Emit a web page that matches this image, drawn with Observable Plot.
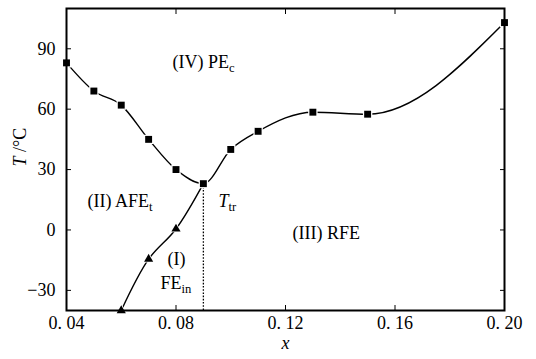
<!DOCTYPE html>
<html><head><meta charset="utf-8">
<script src="https://cdn.jsdelivr.net/npm/d3@7"></script>
<script src="https://cdn.jsdelivr.net/npm/@observablehq/plot@0.6"></script>
<style>body{margin:0;background:#fff} svg text{font-family:'Liberation Serif','Times New Roman',serif}</style>
</head><body><div id="chart"></div>
<script>
// Upper phase boundary (squares)
const upperX = [0.04, 0.05, 0.06, 0.07, 0.08, 0.09, 0.10, 0.11, 0.13, 0.15, 0.20];
const upperT = [83, 69, 62, 45, 30, 23, 40, 49, 58.5, 57.5, 103];
// Lower boundary (triangles)
const lowerX = [0.06, 0.07, 0.08];
const lowerT = [-40, -14.5, 0.5];
// Triple point
const trX = [0.09];
const trT = [23];
// Axes
const xDomain = [0.04, 0.20];
const yDomain = [-40, 110];
const xTicks = [0.04, 0.08, 0.12, 0.16, 0.20];
const xTickLabels = ["0. 04", "0. 08", "0. 12", "0. 16", "0. 20"];
const yTicks = [-30, 0, 30, 60, 90];
const yTickLabels = ["\u221230", "0", "30", "60", "90"];
// Region labels
const regionLabels = ["(IV) PE_{c}", "(II) AFE_{t}", "*T*_{tr}", "(I)", "FE_{in}", "(III) RFE"];
const labelX = [0.0787, 0.0477, 0.0955, 0.0769, 0.0743, 0.1226];
const labelT = [83.4, 14.4, 14.4, -14.6, -26.6, -1.6];

const upper = upperX.map((x, i) => ({x, T: upperT[i]}));
const lowerLine = lowerX.map((x, i) => ({x, T: lowerT[i]})).concat(trX.map((x, i) => ({x, T: trT[i]})));
const lower = lowerX.map((x, i) => ({x, T: lowerT[i]}));
const tr = trX.map((x, i) => ({x, T: trT[i]}));
const labels = regionLabels.map((s, i) => ({s, x: labelX[i], T: labelT[i]}));

const plot = Plot.plot({
  width: 536, height: 359,
  marginLeft: 66, marginRight: 32, marginTop: 8, marginBottom: 49,
  style: {fontFamily: "'Liberation Serif', 'Times New Roman', serif", fontSize: "18px", background: "white", color: "black"},
  x: {domain: xDomain},
  y: {domain: yDomain},
  marks: [
    Plot.ruleX(tr, {x: "x", y1: yDomain[0], y2: "T", strokeDasharray: "1.6,1.6", strokeWidth: 1.3}),
    Plot.line(upper, {x: "x", y: "T", curve: "monotone-x", strokeWidth: 1.4}),
    Plot.line(lowerLine, {x: "x", y: "T", curve: "catmull-rom", strokeWidth: 1.4}),
    Plot.dot(upper, {x: "x", y: "T", symbol: "square", r: 3.9, fill: "black", stroke: "white", strokeWidth: 2.5, paintOrder: "stroke"}),
    Plot.dot(lower, {x: "x", y: "T", symbol: "triangle", r: 3.4, fill: "black", stroke: "white", strokeWidth: 1.5, paintOrder: "stroke"}),
    Plot.text(labels, {x: "x", y: "T", text: "s", textAnchor: "start", lineAnchor: "middle", fontSize: 18, className: "rich"}),
    Plot.axisX(xTicks, {anchor: "bottom", tickSize: -5, tickPadding: 11, tickFormat: (d, i) => xTickLabels[i], label: null, fontSize: 18}),
    Plot.axisX(xTicks, {anchor: "top", tickSize: -5, tickFormat: () => "", label: null}),
    Plot.axisY(yTicks, {anchor: "left", tickSize: -5, tickPadding: 16, tickFormat: (d, i) => yTickLabels[i], label: null, fontSize: 18}),
    Plot.axisY(yTicks, {anchor: "right", tickSize: -5, tickFormat: () => "", label: null}),
    Plot.frame({strokeWidth: 2}),
    Plot.text(["*T* /°C"], {frameAnchor: "left", dx: -46, dy: 7, rotate: -90, fontSize: 18, className: "rich"}),
    Plot.text(["*x*"], {frameAnchor: "bottom", dy: 38, fontSize: 18, className: "rich"})
  ]
});

const ns = "http://www.w3.org/2000/svg";
d3.select(plot).selectAll("g.rich text").each(function() {
  const s = this.textContent;
  this.textContent = "";
  const re = /(\*[^*]+\*)|(_\{[^}]+\})|([^*_]+)/g;
  let m;
  while ((m = re.exec(s))) {
    const t = document.createElementNS(ns, "tspan");
    if (m[1]) { t.textContent = m[1].slice(1, -1); t.setAttribute("font-style", "italic"); }
    else if (m[2]) { t.textContent = m[2].slice(2, -1); t.setAttribute("font-size", "0.7em"); t.setAttribute("dy", "0.3em"); }
    else t.textContent = m[3];
    this.appendChild(t);
  }
});
document.getElementById("chart").appendChild(plot);
</script>
</body></html>
